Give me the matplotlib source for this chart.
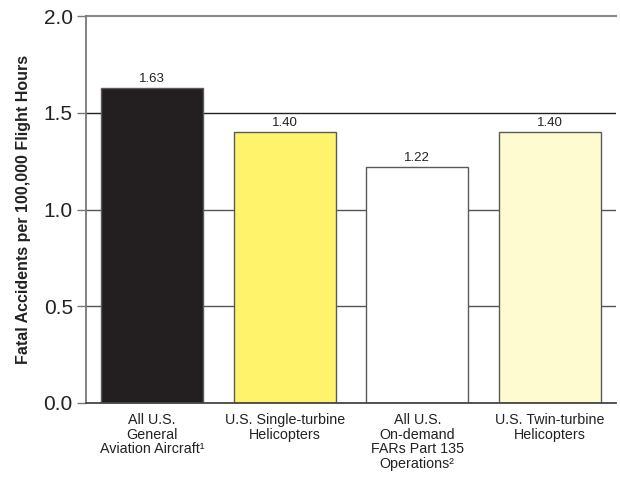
import matplotlib
matplotlib.use("Agg")
import matplotlib.pyplot as plt

plt.rcParams['font.family'] = ['Liberation Sans', 'DejaVu Sans']

categories = [
    "All U.S.\nGeneral\nAviation Aircraft\u00b9",
    "U.S. Single-turbine\nHelicopters",
    "All U.S.\nOn-demand\nFARs Part 135\nOperations\u00b2",
    "U.S. Twin-turbine\nHelicopters",
]
rates = [1.63, 1.40, 1.22, 1.40]
value_labels = ["1.63", "1.40", "1.22", "1.40"]
bar_colors = ["#231f20", "#fff36b", "#ffffff", "#fffbd0"]
y_ticks = [0.0, 0.5, 1.0, 1.5, 2.0]
y_tick_labels = ["0.0", "0.5", "1.0", "1.5", "2.0"]

fig = plt.figure(figsize=(6.2, 4.79), dpi=100)
ax = fig.add_axes([86 / 620, (479 - 403) / 479, 530 / 620, (403 - 16) / 479])

x = list(range(len(rates)))
ax.set_xlim(-0.5, len(rates) - 0.5)
ax.set_ylim(0, 2.0)

# horizontal reference lines behind the bars
ax.axhline(1.5, color="#222222", lw=1.0, zorder=1)
for yv in [0.5, 1.0]:
    ax.axhline(yv, color="#555555", lw=1.0, zorder=1)
ax.axhline(2.0, color="#888888", lw=1.5, zorder=1, clip_on=False)

ax.bar(x, rates, width=0.77, color=bar_colors, edgecolor="#5a5a5a",
       linewidth=1.0, zorder=2)

for xi, v, lab in zip(x, rates, value_labels):
    ax.text(xi, v + 0.015, lab, ha="center", va="bottom", fontsize=9.5,
            color="#222222")

for side in ["top", "right"]:
    ax.spines[side].set_visible(False)
ax.spines["left"].set_color("#777777")
ax.spines["left"].set_linewidth(1.3)
ax.spines["bottom"].set_color("#444444")
ax.spines["bottom"].set_linewidth(1.3)

ax.set_yticks(y_ticks)
ax.set_yticklabels(y_tick_labels, fontsize=15, color="#222222")
ax.tick_params(axis="y", length=6.5, width=1.0, color="#777777", pad=3)

ax.set_xticks(x)
ax.set_xticklabels(categories, fontsize=10.3, color="#222222", linespacing=1.08)
ax.tick_params(axis="x", length=0, pad=7)

ax.set_ylabel("Fatal Accidents per 100,000 Flight Hours", fontsize=11.5,
              fontweight="bold", color="#222222", labelpad=9)

fig.savefig("out.png", dpi=100)
